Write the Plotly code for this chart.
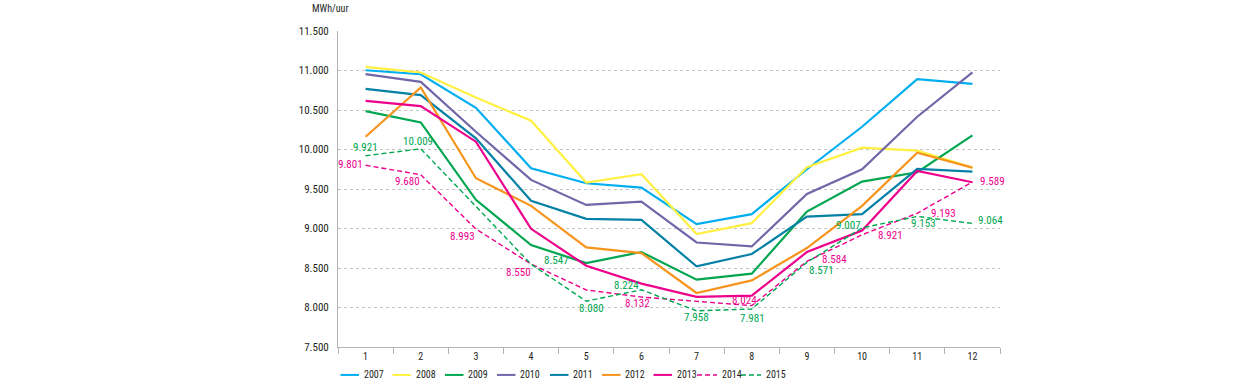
import plotly.graph_objects as go

months = [str(m) for m in range(1, 13)]
y_ticks = [7500, 8000, 8500, 9000, 9500, 10000, 10500, 11000, 11500]

v2007 = [11003, 10953, 10528, 9763, 9573, 9518, 9056, 9182, 9750, 10288, 10890, 10831]
v2008 = [11046, 10975, 10659, 10364, 9581, 9687, 8929, 9068, 9775, 10023, 9985, 9770]
v2009 = [10486, 10343, 9363, 8790, 8563, 8702, 8352, 8428, 9215, 9593, 9712, 10179]
v2010 = [10953, 10856, 10225, 9615, 9299, 9341, 8823, 8773, 9438, 9750, 10415, 10977]
v2011 = [10768, 10688, 10141, 9350, 9123, 9110, 8520, 8677, 9151, 9182, 9754, 9720]
v2012 = [10162, 10785, 9636, 9287, 8760, 8689, 8184, 8343, 8753, 9287, 9960, 9770]
v2013 = [10616, 10549, 10099, 8996, 8529, 8302, 8134, 8150, 8702, 8975, 9729, 9586]
v2014 = [9801, 9680, 8993, 8550, 8222, 8132, 8078, 8024, 8584, 8921, 9193, 9589]
v2015 = [9921, 10009, 9280, 8547, 8080, 8224, 7958, 7981, 8571, 9007, 9153, 9064]

series = [
    ("2007", v2007, "#00aeef", "solid"),
    ("2008", v2008, "#fff042", "solid"),
    ("2009", v2009, "#00a650", "solid"),
    ("2010", v2010, "#7166a8", "solid"),
    ("2011", v2011, "#0581a6", "solid"),
    ("2012", v2012, "#f7941d", "solid"),
    ("2013", v2013, "#ec008c", "solid"),
    ("2014", v2014, "#ec008c", "dash"),
    ("2015", v2015, "#00a650", "dash"),
]

FONT = "Liberation Sans Narrow, Arial Narrow, Roboto Condensed, DejaVu Sans Condensed, sans-serif"
DASH = "5px,3px"

fig = go.Figure()
for name, vals, col, dash in series:
    fig.add_trace(go.Scatter(
        x=months, y=vals, name=name, mode="lines", showlegend=False,
        line=dict(color=col, width=1.4 if dash == "dash" else 2.2,
                  dash=DASH if dash == "dash" else "solid"),
    ))

# data labels for 2014 / 2015: (series values, month index, xanchor, xshift, yshift)
label_spec = [
    (v2015, 0, "center", 0, 8), (v2014, 0, "right", -1, 1),
    (v2015, 1, "center", -3, 7), (v2014, 1, "right", 1, -7),
    (v2014, 2, "right", 1, -7),
    (v2015, 3, "left", 11, 4), (v2014, 3, "right", 2, -8),
    (v2015, 4, "center", 5, -7),
    (v2015, 5, "center", -15, 4), (v2014, 5, "center", -4, -6),
    (v2015, 6, "center", 0, -7),
    (v2014, 7, "center", -7, 5), (v2015, 7, "center", 1, -9),
    (v2014, 8, "left", 13, 2), (v2015, 8, "center", 15, -8),
    (v2015, 9, "right", 1, 2), (v2014, 9, "left", 14, -1),
    (v2014, 10, "left", 12, 0), (v2015, 10, "center", 6, -7),
    (v2015, 11, "left", 4, 3), (v2014, 11, "left", 6, 0),
]
for vals, i, xa, xs, ys in label_spec:
    col = "#00a650" if vals is v2015 else "#ec008c"
    fig.add_annotation(
        x=i, y=vals[i], text=f"{vals[i]:,}".replace(",", "."),
        showarrow=False, xanchor=xa, yanchor="middle", xshift=xs, yshift=ys,
        font=dict(family=FONT, size=11, color=col),
    )

fig.add_annotation(
    xref="paper", yref="paper", x=-0.043, y=1.072, text="MWh/uur",
    showarrow=False, xanchor="left", yanchor="middle",
    font=dict(family=FONT, size=10, color="#231f20"),
)

# custom legend (pixel layout converted to paper coordinates)
L, PW, TOP, PH = 338, 662, 30.7, 316.8
def px2x(p):
    return (p - L) / PW
def py2y(p):
    return (TOP + PH - p) / PH

leg_x = [340.5, 392.5, 445, 497, 550, 602, 653.5, 697, 741]
leg_y = 375.5
for (name, vals, col, dash), lx in zip(series, leg_x):
    seg = 20 if dash == "dash" else 18.5
    fig.add_shape(
        type="line", xref="paper", yref="paper",
        x0=px2x(lx), x1=px2x(lx + seg), y0=py2y(leg_y), y1=py2y(leg_y),
        line=dict(color=col, width=1.4 if dash == "dash" else 2,
                  dash=DASH if dash == "dash" else "solid"),
    )
    fig.add_annotation(
        xref="paper", yref="paper", x=px2x(lx + seg + 2.5), y=py2y(leg_y),
        text=name, showarrow=False, xanchor="left", yanchor="middle",
        font=dict(family=FONT, size=10, color="#231f20"),
    )

fig.update_layout(
    width=1250, height=387,
    margin=dict(l=L, r=1250 - L - PW, t=TOP, b=387 - TOP - PH,
                pad=0, autoexpand=False),
    paper_bgcolor="white", plot_bgcolor="white",
    separators=",.",
    font=dict(family=FONT, size=11, color="#231f20"),
    showlegend=False,
    xaxis=dict(
        type="category", range=[-0.5, 11.5],
        tickson="boundaries", ticks="outside", ticklen=6, tickcolor="#b3b3b3",
        showline=True, linecolor="#b3b3b3", linewidth=1,
        showgrid=False, zeroline=False, automargin=False,
        tickfont=dict(family=FONT, size=10, color="#231f20"),
    ),
    yaxis=dict(
        range=[7500, 11500], tickvals=y_ticks, tickformat=",d",
        showline=True, linecolor="#b3b3b3", linewidth=1,
        showgrid=True, gridcolor="#c4c4c4", griddash="dot", gridwidth=1,
        zeroline=False, ticks="", ticklabelstandoff=6, automargin=False,
        tickfont=dict(family=FONT, size=11, color="#231f20"),
    ),
)

# remove the default 8px page margin so the figure fills the window exactly
fig.write_html("out.html", config={"displayModeBar": False},
               post_script="document.body.style.margin='0';document.body.style.overflow='hidden';")
